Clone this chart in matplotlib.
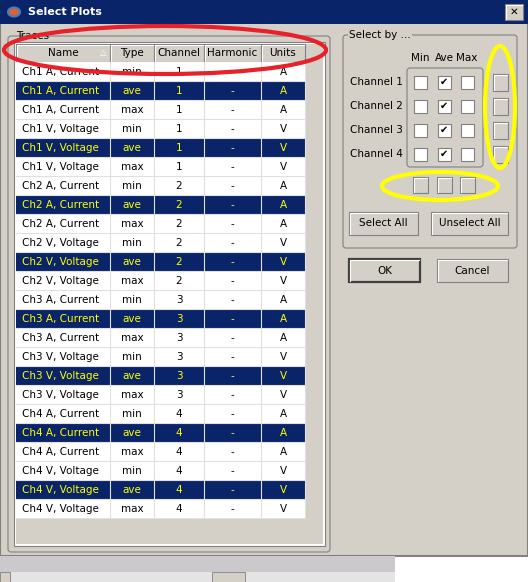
import matplotlib.pyplot as plt
from matplotlib.patches import Rectangle, Ellipse, FancyBboxPatch

# table data
names = ['Ch1 A, Current'] * 3 + ['Ch1 V, Voltage'] * 3 + ['Ch2 A, Current'] * 3 + ['Ch2 V, Voltage'] * 3 \
      + ['Ch3 A, Current'] * 3 + ['Ch3 V, Voltage'] * 3 + ['Ch4 A, Current'] * 3 + ['Ch4 V, Voltage'] * 3
types = ['min', 'ave', 'max'] * 8
channels = ['1'] * 6 + ['2'] * 6 + ['3'] * 6 + ['4'] * 6
harmonics = ['-'] * 24
units = (['A'] * 3 + ['V'] * 3) * 4
headers = ['Name', 'Type', 'Channel', 'Harmonic', 'Units']
col_edges = [16, 110, 154, 204, 261, 305]
chan_labels = ['Channel 1', 'Channel 2', 'Channel 3', 'Channel 4']
kind_labels = ['Min', 'Ave', 'Max']
checked = [[False, True, False]] * 4

BG = '#D4D0C8'
NAVY = '#0A246A'
fig = plt.figure(figsize=(5.28, 5.82), dpi=100)
ax = fig.add_axes([0, 0, 1, 1])
ax.set_xlim(0, 528)
ax.set_ylim(582, 0)
ax.axis('off')

def rect(x0, y0, x1, y1, fc, ec='none', lw=1, z=1):
    ax.add_patch(Rectangle((x0, y0), x1 - x0, y1 - y0, facecolor=fc, edgecolor=ec, lw=lw, zorder=z))

def button(x0, y0, x1, y1, text='', bold_border=False):
    rect(x0, y0, x1, y1, BG, '#404040' if bold_border else '#808080', 1.6 if bold_border else 0.8, 3)
    ax.plot([x0 + 1, x0 + 1, x1 - 1], [y1 - 1, y0 + 1, y0 + 1], color='white', lw=0.8, zorder=4)
    if text:
        ax.text((x0 + x1) / 2, (y0 + y1) / 2, text, ha='center', va='center', fontsize=7.5, zorder=5)

# window
rect(0, 0, 528, 582, 'white', z=0)
rect(0, 0, 528, 556, BG, '#808080', 1.5)
rect(0, 556, 395, 572, '#CBC9CC')
rect(0, 572, 395, 582, '#E4E4E4')
rect(0, 572, 10, 582, BG, '#808080', 0.6, 3)
rect(212, 572, 245, 582, BG, '#808080', 0.6, 3)
rect(0, 0, 528, 24, NAVY, z=2)
ax.add_patch(Ellipse((14, 12), 12, 9, facecolor='#E06030', edgecolor='#4080C0', lw=1.5, zorder=3))
ax.text(28, 12, 'Select Plots', color='white', fontweight='bold', fontsize=8, va='center', zorder=3)
button(505, 4, 523, 20, '✕')

# traces group
ax.add_patch(FancyBboxPatch((8, 36), 322, 516, boxstyle='round,pad=0,rounding_size=3',
                            facecolor='none', edgecolor='#808080', lw=0.8, zorder=2))
ax.text(16, 36, 'Traces', fontsize=7.5, va='center', zorder=2)
rect(14, 42, 325, 546, 'white', '#808080', 0.8, 2)
rect(16, 44, 323, 544, BG, z=2)

# header
for i, h in enumerate(headers):
    button(col_edges[i], 44, col_edges[i + 1], 62, h)
ax.text(103, 52, '△', fontsize=6, color='white', ha='center', va='center', zorder=6)

# rows
rows = list(zip(names, types, channels, harmonics, units))
for r, vals in enumerate(rows):
    y0 = 62 + r * 19
    sel = types[r] == 'ave'
    rect(16, y0, 305, y0 + 19, NAVY if sel else 'white', z=3)
    for c, v in enumerate(vals):
        x0, x1 = col_edges[c], col_edges[c + 1]
        ax.plot([x1, x1], [y0, y0 + 19], color='#E0E0E0', lw=0.8, zorder=4)
        if c == 0:
            ax.text(x0 + 6, y0 + 10, v, fontsize=7.5, va='center', color='yellow' if sel else 'black', zorder=5)
        else:
            ax.text((x0 + x1) / 2, y0 + 10, v, fontsize=7.5, ha='center', va='center',
                    color='yellow' if sel else 'black', zorder=5)
    ax.plot([16, 305], [y0 + 19, y0 + 19], color='#E0E0E0', lw=0.8, zorder=4)

# select by group
ax.add_patch(FancyBboxPatch((343, 35), 174, 213, boxstyle='round,pad=0,rounding_size=3',
                            facecolor='none', edgecolor='#808080', lw=0.8, zorder=2))
ax.text(349, 35, 'Select by ...', fontsize=7.5, va='center', zorder=3,
        bbox=dict(facecolor=BG, edgecolor='none', pad=1))
ax.add_patch(FancyBboxPatch((407, 68), 76, 99, boxstyle='round,pad=0,rounding_size=3',
                            facecolor='none', edgecolor='#808080', lw=0.8, zorder=2))
kx = [420, 444, 467]
for k, lab in enumerate(kind_labels):
    ax.text(kx[k], 58, lab, fontsize=7.5, ha='center', va='center')
for j, lab in enumerate(chan_labels):
    y = 82 + j * 24
    ax.text(350, y, lab, fontsize=7.5, va='center')
    for k in range(3):
        rect(kx[k] - 6.5, y - 6.5, kx[k] + 6.5, y + 6.5, 'white', '#808080', 0.8, 3)
        if checked[j][k]:
            ax.text(kx[k], y, '✔', fontsize=7, ha='center', va='center', zorder=4)
    button(493, y - 8, 508, y + 9)
for k in range(3):
    button(kx[k] - 7, 177, kx[k] + 8, 193)
button(349, 212, 418, 235, 'Select All')
button(431, 212, 508, 235, 'Unselect All')
button(349, 259, 420, 282, 'OK', bold_border=True)
button(437, 259, 508, 282, 'Cancel')

# annotations
ax.add_patch(Ellipse((165, 50), 322, 48, facecolor='none', edgecolor='#E8202A', lw=3, zorder=8))
ax.add_patch(Ellipse((500, 107), 30, 122, facecolor='none', edgecolor='#FFFF00', lw=3, zorder=8))
ax.add_patch(Ellipse((440, 186), 116, 28, facecolor='none', edgecolor='#FFFF00', lw=3, zorder=8))

fig.savefig('out.png', dpi=100)
